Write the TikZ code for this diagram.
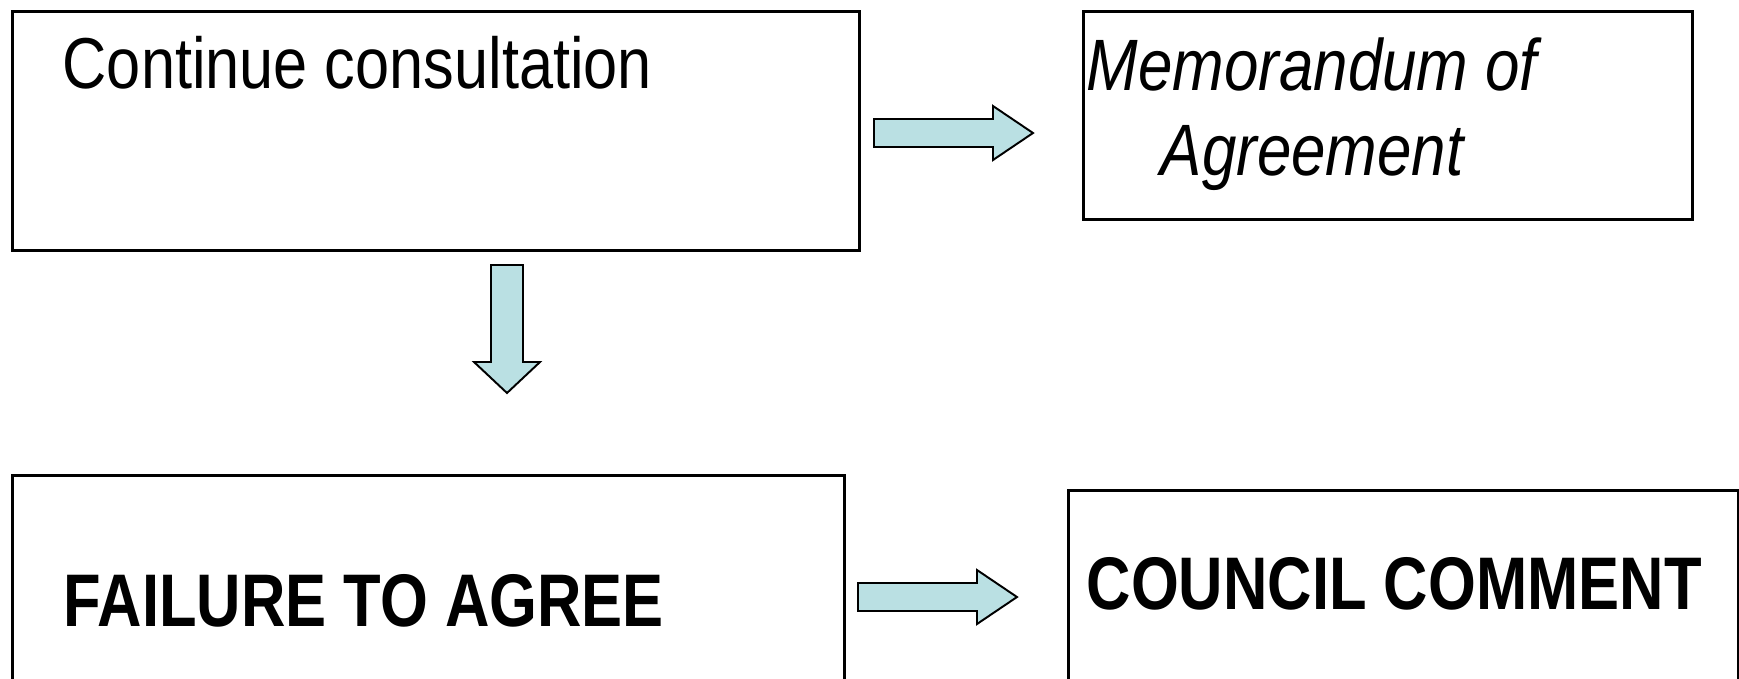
\documentclass[tikz,border=0pt]{standalone}
\usepackage{fontspec}
\setmainfont{Liberation Sans}
\newfontfamily\consfont[FakeStretch=0.85]{Liberation Sans}
\newfontfamily\memofont[FakeStretch=0.85]{Liberation Sans}
\newfontfamily\failfont[FakeStretch=0.825]{Liberation Sans}
\usepackage{tikz}
\usetikzlibrary{positioning}
\usepackage{xcolor}
\definecolor{arrowblue}{RGB}{186,224,227}
\tikzstyle{stage}=[rectangle, draw=black, line width=0.75pt, anchor=north west, inner sep=0pt]
\tikzstyle{label}=[anchor=base west, inner sep=0pt, align=left]
\tikzstyle{fatarrow}=[draw=black, fill=arrowblue, line width=0.55pt, line join=miter]

\begin{document}
\begin{tikzpicture}[x=0.01cm, y=-0.01cm]
        \useasboundingbox (0,0) rectangle (1739,678);
        % boxes
        \node (cons)[stage, minimum width=847*0.01cm, minimum height=239*0.01cm] at (11,10) {};
        \node (memo)[stage, minimum width=609*0.01cm, minimum height=208*0.01cm] at (1082,10) {};
        \node (fail)[stage, minimum width=832*0.01cm, minimum height=230*0.01cm] at (11,474) {};
        \node (council)[stage, minimum width=670*0.01cm, minimum height=215*0.01cm] at (1067,489) {};

        % texts
        \node (constext)[label, font={\fontsize{20.5pt}{24pt}\selectfont\consfont}] at (62,88)
            {Continue consultation};
        \node (memotext)[label, font={\fontsize{20.7pt}{23.9pt}\selectfont\memofont\itshape}] at (1086,175)
            {Memorandum of\\ \hspace*{0.74cm}Agreement};
        \node (failtext)[label, font={\fontsize{21.2pt}{25pt}\selectfont\failfont\bfseries}] at (63,626)
            {FAILURE TO AGREE};
        \node (counciltext)[label, font={\fontsize{21.2pt}{25pt}\selectfont\failfont\bfseries}] at (1086,609)
            {COUNCIL COMMENT};

        % block arrows
        \coordinate (r1) at (874,133);
        \coordinate (r2) at (858,597);
        \coordinate (d1) at (507,265);
        \draw[fatarrow] (r1) ++(0,-14) -- ++(119,0) -- ++(0,-13) -- ++(40,27)
            -- ++(-40,27) -- ++(0,-13) -- ++(-119,0) -- cycle;
        \draw[fatarrow] (r2) ++(0,-14) -- ++(119,0) -- ++(0,-13) -- ++(40,27)
            -- ++(-40,27) -- ++(0,-13) -- ++(-119,0) -- cycle;
        \draw[fatarrow] (d1) ++(-16,0) -- ++(0,97) -- ++(-17,0) -- ++(33,31)
            -- ++(33,-31) -- ++(-17,0) -- ++(0,-97) -- cycle;
    \end{tikzpicture}
\end{document}
